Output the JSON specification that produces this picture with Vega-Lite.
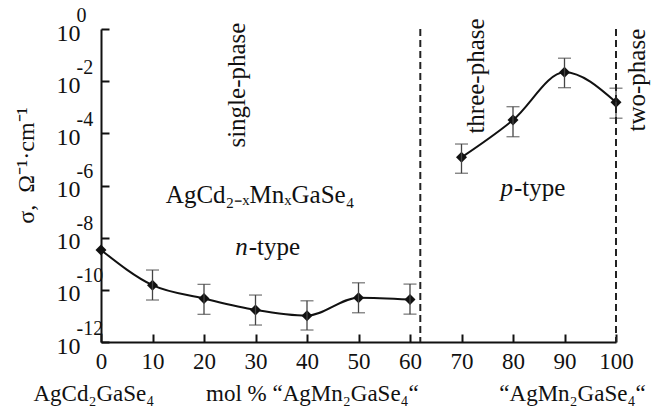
{
  "$schema": "https://vega.github.io/schema/vega-lite/v6.json",
  "width": 515,
  "height": 313,
  "autosize": "none",
  "padding": {"left": 101, "top": 29, "right": 39, "bottom": 77},
  "background": "white",
  "config": {"view": {"stroke": null}, "font": "Liberation Serif"},
  "resolve": {"axis": {"y": "independent"}},
  "datasets": {
    "pts": [
      {"x": 0, "y": 3.39e-9, "lo": null, "hi": null, "seg": "n"},
      {"x": 10, "y": 1.51e-10, "lo": 4.07e-11, "hi": 5.75e-10, "seg": "n"},
      {"x": 20, "y": 4.68e-11, "lo": 1.15e-11, "hi": 1.62e-10, "seg": "n"},
      {"x": 30, "y": 1.70e-11, "lo": 4.47e-12, "hi": 6.31e-11, "seg": "n"},
      {"x": 40, "y": 1.02e-11, "lo": 2.88e-12, "hi": 3.80e-11, "seg": "n"},
      {"x": 50, "y": 5.01e-11, "lo": 1.32e-11, "hi": 1.86e-10, "seg": "n"},
      {"x": 60, "y": 4.27e-11, "lo": 1.17e-11, "hi": 1.66e-10, "seg": "n"},
      {"x": 70, "y": 1.20e-5, "lo": 2.95e-6, "hi": 3.89e-5, "seg": "p"},
      {"x": 80, "y": 3.24e-4, "lo": 7.41e-5, "hi": 1.05e-3, "seg": "p"},
      {"x": 90, "y": 2.19e-2, "lo": 5.62e-3, "hi": 7.59e-2, "seg": "p"},
      {"x": 100, "y": 1.55e-3, "lo": 3.80e-4, "hi": 5.37e-3, "seg": "p"}
    ],
    "vlines": [{"x": 62}, {"x": 100}],
    "rotated": [
      {"x": 26.4, "y": 7.08e-3, "t": "single-phase"},
      {"x": 72.8, "y": 1.58e-2, "t": "three-phase"},
      {"x": 104.1, "y": 1.1e-2, "t": "two-phase"}
    ],
    "formula": [
      {"x": 30.9, "y": 4.3e-7, "t": "AgCd₂₋ₓMnₓGaSe₄"}
    ],
    "prefix": [
      {"x": 28.5, "y": 4.37e-9, "t": "n"},
      {"x": 80.0, "y": 7.94e-7, "t": "p"}
    ],
    "suffix": [
      {"x": 28.5, "y": 4.37e-9, "t": "-type"},
      {"x": 80.0, "y": 7.94e-7, "t": "-type"}
    ]
  },
  "layer": [
    {
      "data": {"name": "pts"},
      "mark": {"type": "line", "interpolate": "monotone", "color": "#111", "strokeWidth": 2},
      "encoding": {
        "x": {
          "field": "x", "type": "quantitative",
          "scale": {"domain": [0, 100], "nice": false, "zero": false},
          "title": "AgCd₂GaSe₄\u00a0\u00a0\u00a0\u00a0\u00a0\u00a0\u00a0\u00a0\u00a0mol\u00a0%\u00a0“AgMn₂GaSe₄“\u00a0\u00a0\u00a0\u00a0\u00a0\u00a0\u00a0\u00a0\u00a0\u00a0\u00a0\u00a0\u00a0\u00a0“AgMn₂GaSe₄“",
          "axis": {
            "values": [0, 10, 20, 30, 40, 50, 60, 70, 80, 90, 100],
            "grid": false,
            "domainColor": "#111", "domainWidth": 2,
            "tickColor": "#111", "tickWidth": 2, "tickSize": -8,
            "labelFont": "Liberation Serif", "labelFontSize": 23, "labelColor": "#111",
            "labelPadding": 16, "labelFlush": false, "labelOverlap": false,
            "titleFont": "Liberation Serif", "titleFontSize": 23, "titleFontWeight": "normal", "titleColor": "#111",
            "titleAnchor": "start", "titleAlign": "left", "titleX": -68, "titleY": 58, "titleBaseline": "alphabetic"
          }
        },
        "y": {
          "field": "y", "type": "quantitative",
          "scale": {"type": "log", "domain": [1e-12, 1], "nice": false},
          "title": "σ,\u00a0\u00a0Ω⁻¹·cm⁻¹",
          "axis": {
            "values": [1, 0.01, 0.0001, 1e-6, 1e-8, 1e-10, 1e-12],
            "labelExpr": "'10'",
            "grid": false,
            "domainColor": "#111", "domainWidth": 2,
            "tickColor": "#111", "tickWidth": 2, "tickSize": -8,
            "labelFont": "Liberation Serif", "labelFontSize": 24, "labelColor": "#111",
            "labelAlign": "right", "labelBaseline": "middle", "labelOffset": 4,
            "labelPadding": 29, "labelFlush": false, "labelOverlap": false, "labelBound": false,
            "titleFont": "Liberation Serif", "titleFontSize": 24, "titleFontWeight": "normal", "titleColor": "#111",
            "titlePadding": 18, "titleY": 136
          }
        },
        "detail": {"field": "seg"}
      }
    },
    {
      "data": {"name": "pts"},
      "mark": {"type": "point", "shape": "diamond", "filled": true, "size": 120, "color": "#111", "opacity": 1},
      "encoding": {
        "x": {"field": "x", "type": "quantitative", "title": "AgCd₂GaSe₄\u00a0\u00a0\u00a0\u00a0\u00a0\u00a0\u00a0\u00a0\u00a0mol\u00a0%\u00a0“AgMn₂GaSe₄“\u00a0\u00a0\u00a0\u00a0\u00a0\u00a0\u00a0\u00a0\u00a0\u00a0\u00a0\u00a0\u00a0\u00a0“AgMn₂GaSe₄“"},
        "y": {
          "field": "y", "type": "quantitative",
          "axis": {
            "orient": "left",
            "values": [1, 0.01, 0.0001, 1e-6, 1e-8, 1e-10, 1e-12],
            "labelExpr": "round(log(datum.value)/LN10) == 0 ? '0' : '-' + abs(round(log(datum.value)/LN10))",
            "grid": false, "domain": false, "ticks": false,
            "labelFont": "Liberation Serif", "labelFontSize": 20, "labelColor": "#111",
            "labelAlign": "left", "labelBaseline": "alphabetic", "labelOffset": -8,
            "labelPadding": 25, "labelFlush": false, "labelOverlap": false, "labelBound": false,
            "title": null
          }
        }
      }
    },
    {
      "data": {"name": "pts"},
      "mark": {"type": "errorbar", "ticks": true, "size": 13, "thickness": 1.3, "color": "#444"},
      "encoding": {
        "x": {"field": "x", "type": "quantitative", "title": "AgCd₂GaSe₄\u00a0\u00a0\u00a0\u00a0\u00a0\u00a0\u00a0\u00a0\u00a0mol\u00a0%\u00a0“AgMn₂GaSe₄“\u00a0\u00a0\u00a0\u00a0\u00a0\u00a0\u00a0\u00a0\u00a0\u00a0\u00a0\u00a0\u00a0\u00a0“AgMn₂GaSe₄“"},
        "y": {"field": "lo", "type": "quantitative", "axis": null},
        "y2": {"field": "hi"}
      }
    },
    {
      "data": {"name": "vlines"},
      "mark": {"type": "rule", "strokeDash": [7, 4], "strokeWidth": 2, "color": "#222"},
      "encoding": {
        "x": {"field": "x", "type": "quantitative", "title": "AgCd₂GaSe₄\u00a0\u00a0\u00a0\u00a0\u00a0\u00a0\u00a0\u00a0\u00a0mol\u00a0%\u00a0“AgMn₂GaSe₄“\u00a0\u00a0\u00a0\u00a0\u00a0\u00a0\u00a0\u00a0\u00a0\u00a0\u00a0\u00a0\u00a0\u00a0“AgMn₂GaSe₄“"}
      }
    },
    {
      "data": {"name": "rotated"},
      "mark": {"type": "text", "angle": 270, "align": "center", "baseline": "middle", "font": "Liberation Serif", "fontSize": 25, "color": "#111"},
      "encoding": {
        "x": {"field": "x", "type": "quantitative", "title": "AgCd₂GaSe₄\u00a0\u00a0\u00a0\u00a0\u00a0\u00a0\u00a0\u00a0\u00a0mol\u00a0%\u00a0“AgMn₂GaSe₄“\u00a0\u00a0\u00a0\u00a0\u00a0\u00a0\u00a0\u00a0\u00a0\u00a0\u00a0\u00a0\u00a0\u00a0“AgMn₂GaSe₄“"},
        "y": {"field": "y", "type": "quantitative", "axis": null},
        "text": {"field": "t"}
      }
    },
    {
      "data": {"name": "formula"},
      "mark": {"type": "text", "align": "center", "baseline": "middle", "font": "Liberation Serif", "fontSize": 25, "color": "#111"},
      "encoding": {
        "x": {"field": "x", "type": "quantitative", "title": "AgCd₂GaSe₄\u00a0\u00a0\u00a0\u00a0\u00a0\u00a0\u00a0\u00a0\u00a0mol\u00a0%\u00a0“AgMn₂GaSe₄“\u00a0\u00a0\u00a0\u00a0\u00a0\u00a0\u00a0\u00a0\u00a0\u00a0\u00a0\u00a0\u00a0\u00a0“AgMn₂GaSe₄“"},
        "y": {"field": "y", "type": "quantitative", "axis": null},
        "text": {"field": "t"}
      }
    },
    {
      "data": {"name": "prefix"},
      "mark": {"type": "text", "align": "right", "baseline": "middle", "font": "Liberation Serif", "fontSize": 25, "fontStyle": "italic", "color": "#111"},
      "encoding": {
        "x": {"field": "x", "type": "quantitative", "title": "AgCd₂GaSe₄\u00a0\u00a0\u00a0\u00a0\u00a0\u00a0\u00a0\u00a0\u00a0mol\u00a0%\u00a0“AgMn₂GaSe₄“\u00a0\u00a0\u00a0\u00a0\u00a0\u00a0\u00a0\u00a0\u00a0\u00a0\u00a0\u00a0\u00a0\u00a0“AgMn₂GaSe₄“"},
        "y": {"field": "y", "type": "quantitative", "axis": null},
        "text": {"field": "t"}
      }
    },
    {
      "data": {"name": "suffix"},
      "mark": {"type": "text", "align": "left", "baseline": "middle", "dx": 1, "font": "Liberation Serif", "fontSize": 25, "color": "#111"},
      "encoding": {
        "x": {"field": "x", "type": "quantitative", "title": "AgCd₂GaSe₄\u00a0\u00a0\u00a0\u00a0\u00a0\u00a0\u00a0\u00a0\u00a0mol\u00a0%\u00a0“AgMn₂GaSe₄“\u00a0\u00a0\u00a0\u00a0\u00a0\u00a0\u00a0\u00a0\u00a0\u00a0\u00a0\u00a0\u00a0\u00a0“AgMn₂GaSe₄“"},
        "y": {"field": "y", "type": "quantitative", "axis": null},
        "text": {"field": "t"}
      }
    }
  ]
}
